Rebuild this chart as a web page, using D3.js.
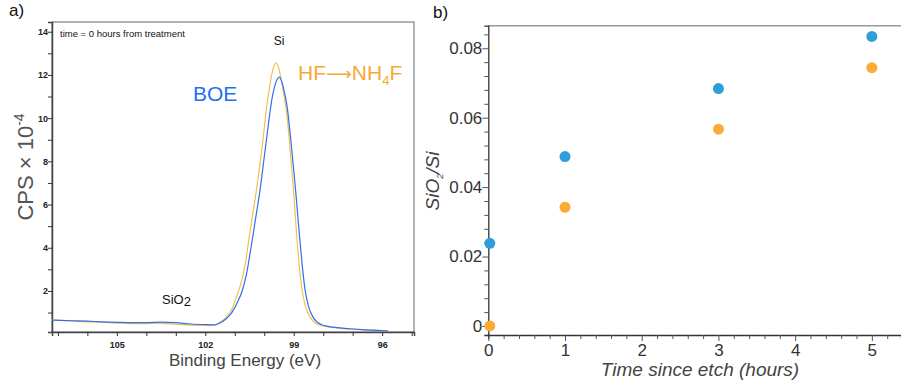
<!DOCTYPE html>
<html>
<head>
<meta charset="utf-8">
<script src="https://cdn.jsdelivr.net/npm/d3@7"></script>
<style>
  body { margin: 0; background: #fff; }
  svg { font-family: "Liberation Sans", Arial, sans-serif; }
</style>
</head>
<body>
<svg id="chart" width="901" height="384"></svg>
<script>
// ---- panel a) XPS spectra (binding energy eV, CPS x 10^-4) ----
var boeEnergy = [107.2, 106.5, 106, 105.5, 105, 104.5, 104, 103.5, 103, 102.5, 102, 101.68, 101.5, 101.3, 101.1, 100.9, 100.75, 100.6, 100.45, 100.3, 100.15, 100.0, 99.87, 99.75, 99.62, 99.48, 99.35, 99.22, 99.1, 99.0, 98.92, 98.82, 98.72, 98.62, 98.5, 98.35, 98.2, 98.07, 97.8, 97.5, 97, 96.5, 96, 95.8];
var boeCps    = [0.65, 0.62, 0.6, 0.57, 0.55, 0.53, 0.53, 0.56, 0.53, 0.47, 0.44, 0.43, 0.52, 0.7, 1.0, 1.5, 2.0, 2.8, 4.0, 5.3, 6.6, 8.2, 9.6, 10.8, 11.6, 11.9, 11.4, 10.5, 9.0, 7.6, 6.4, 4.8, 3.3, 2.1, 1.3, 0.8, 0.55, 0.45, 0.35, 0.3, 0.24, 0.2, 0.16, 0.15];
var hfEnergy  = [107.2, 106.5, 106, 105.5, 105, 104.5, 104, 103.5, 103, 102.5, 102, 101.68, 101.5, 101.3, 101.1, 100.95, 100.8, 100.65, 100.5, 100.35, 100.2, 100.05, 99.93, 99.8, 99.7, 99.59, 99.47, 99.35, 99.22, 99.1, 99.0, 98.9, 98.8, 98.7, 98.58, 98.45, 98.3, 98.19, 97.8, 97.5, 97, 96.5, 96, 95.8];
var hfCps     = [0.66, 0.6, 0.57, 0.54, 0.51, 0.49, 0.49, 0.5, 0.46, 0.42, 0.4, 0.43, 0.55, 0.78, 1.15, 1.7, 2.3, 3.2, 4.6, 5.9, 7.3, 8.9, 10.4, 11.6, 12.3, 12.55, 12.1, 11.2, 10.0, 8.2, 6.5, 4.6, 3.0, 1.9, 1.2, 0.8, 0.55, 0.45, 0.33, 0.28, 0.23, 0.19, 0.16, 0.15];
var energyTicks = [105, 102, 99, 96];

// ---- panel b) SiO2/Si ratio vs time ----
var hours   = [0, 1, 3, 5];
var boeRatio = [0.0238, 0.0488, 0.0684, 0.0834];
var hfRatio  = [0.0, 0.0342, 0.0567, 0.0744];

var svg = d3.select("#chart");
var blueLine = "#2f6ff0", yellowLine = "#f2c14e";
var blueDot = "#2e9fd9", orangeDot = "#fbab36";

// ================= panel a =================
var a = { left: 52, right: 414, top: 22, bottom: 332 };
var xA = d3.scaleLinear().domain([107.2, 94.92]).range([a.left, a.right]);
var yA = d3.scaleLinear().domain([0.1, 14.45]).range([a.bottom, a.top]);

svg.append("rect")
  .attr("x", a.left).attr("y", a.top)
  .attr("width", a.right - a.left).attr("height", a.bottom - a.top)
  .attr("fill", "none").attr("stroke", "#666").attr("stroke-width", 1);

var gxA = svg.append("g").attr("transform", "translate(0," + a.bottom + ")")
  .call(d3.axisBottom(xA).tickValues(d3.range(95, 108)).tickSize(4)
    .tickFormat(function(d) { return energyTicks.indexOf(d) >= 0 ? d : ""; }));
var gyA = svg.append("g").attr("transform", "translate(" + a.left + ",0)")
  .call(d3.axisLeft(yA).tickValues(d3.range(1, 15)).tickSize(4)
    .tickFormat(function(d) { return d % 2 === 0 ? d : ""; }));
[gxA, gyA].forEach(function(g) {
  g.select(".domain").attr("stroke", "#444").attr("stroke-width", 1.5);
  g.selectAll(".tick line").attr("stroke", "#333");
  g.selectAll(".tick text").attr("font-size", 9).attr("font-weight", "bold").attr("fill", "#222");
});
gxA.selectAll(".tick text").attr("dy", "0.95em");
gyA.selectAll(".tick text").attr("x", -4);

var lineA = d3.line().curve(d3.curveMonotoneX);
svg.append("path")
  .attr("d", lineA(hfEnergy.map(function(e, i) { return [xA(e), yA(hfCps[i])]; })))
  .attr("fill", "none").attr("stroke", yellowLine).attr("stroke-width", 1.2);
svg.append("path")
  .attr("d", lineA(boeEnergy.map(function(e, i) { return [xA(e), yA(boeCps[i])]; })))
  .attr("fill", "none").attr("stroke", blueLine).attr("stroke-width", 1.2);

svg.append("text").attr("x", 60).attr("y", 37).attr("font-size", 9.5).attr("fill", "#111")
  .text("time = 0 hours from treatment");
svg.append("text").attr("x", 279).attr("y", 45).attr("font-size", 12).attr("fill", "#111")
  .attr("text-anchor", "middle").text("Si");
var sio2 = svg.append("text").attr("x", 162).attr("y", 304).attr("font-size", 13).attr("fill", "#111");
sio2.append("tspan").text("SiO");
sio2.append("tspan").attr("dy", 2).text("2");
svg.append("text").attr("x", 193).attr("y", 101).attr("font-size", 21).attr("fill", "#1f6ff2")
  .text("BOE");
var hfl = svg.append("text").attr("x", 298).attr("y", 80).attr("font-size", 21).attr("fill", "#f6a935");
hfl.append("tspan").text("HF");
hfl.append("tspan").attr("font-family", "DejaVu Sans").attr("font-size", 18).text("\u27F6");
hfl.append("tspan").text("NH");
hfl.append("tspan").attr("font-size", 13).attr("dy", 5).text("4");
hfl.append("tspan").attr("dy", -5).text("F");

svg.append("text").attr("x", (a.left + a.right) / 2 + 12).attr("y", 366)
  .attr("text-anchor", "middle").attr("font-size", 17).attr("fill", "#444")
  .text("Binding Energy (eV)");
var cps = svg.append("text").attr("transform", "translate(33," + 167 + ") rotate(-90)")
  .attr("text-anchor", "middle").attr("font-size", 22).attr("fill", "#555");
cps.append("tspan").text("CPS \u00d7 10");
cps.append("tspan").attr("font-size", 14).attr("dy", -9).text("-4");

svg.append("text").attr("x", 9).attr("y", 16).attr("font-size", 17).attr("fill", "#111").text("a)");

// ================= panel b =================
var b = { left: 488.3, right: 901, top: 25.7, bottom: 335 };
var xB = d3.scaleLinear().domain([0, 5.38]).range([b.left, b.right]);
var yB = d3.scaleLinear().domain([-0.0026, 0.0865]).range([b.bottom, b.top]);

svg.append("line").attr("x1", b.left).attr("x2", b.right).attr("y1", b.top).attr("y2", b.top)
  .attr("stroke", "#999").attr("stroke-width", 1.5);

var gxB = svg.append("g").attr("transform", "translate(0," + b.bottom + ")")
  .call(d3.axisBottom(xB).tickValues(d3.range(0, 5.4, 0.2)).tickSize(4)
    .tickFormat(function(d) { return Math.abs(d - Math.round(d)) < 1e-6 ? Math.round(d) : ""; }));
var gyB = svg.append("g").attr("transform", "translate(" + b.left + ",0)")
  .call(d3.axisLeft(yB).tickValues(d3.range(0, 0.0861, 0.004)).tickSize(4)
    .tickFormat(function(d) {
      var k = Math.round(d * 1000);
      return k % 20 === 0 ? (k === 0 ? "0" : d3.format(".2f")(k / 1000)) : "";
    }));
[gxB, gyB].forEach(function(g) {
  g.select(".domain").attr("stroke", "#333").attr("stroke-width", 1.3);
  g.selectAll(".tick line").attr("stroke", "#555");
  g.selectAll(".tick text").attr("font-size", 17).attr("fill", "#333");
});
gxB.selectAll(".tick text").attr("dy", "0.8em");
gyB.selectAll(".tick text").attr("x", -6);
// longer major ticks
gxB.selectAll(".tick").filter(function(d) { return Math.abs(d - Math.round(d)) < 1e-6; })
  .select("line").attr("y2", 6);
gyB.selectAll(".tick").filter(function(d) { return Math.round(d * 1000) % 20 === 0; })
  .select("line").attr("x2", -6);

svg.append("g").selectAll("circle").data(hours).join("circle")
  .attr("cx", function(d) { return xB(d) + (d === 0 ? 1.5 : 0); })
  .attr("cy", function(d, i) { return yB(boeRatio[i]); })
  .attr("r", 5.5).attr("fill", blueDot);
svg.append("g").selectAll("circle").data(hours).join("circle")
  .attr("cx", function(d) { return xB(d) + (d === 0 ? 1.5 : 0); })
  .attr("cy", function(d, i) { return yB(hfRatio[i]); })
  .attr("r", 5.5).attr("fill", orangeDot);

svg.append("text").attr("x", 700).attr("y", 376).attr("text-anchor", "middle")
  .attr("font-size", 19).attr("font-style", "italic").attr("fill", "#444")
  .text("Time since etch (hours)");
var ratioLabel = svg.append("text").attr("transform", "translate(439,181) rotate(-90)")
  .attr("text-anchor", "middle").attr("font-size", 19).attr("font-style", "italic").attr("fill", "#444");
ratioLabel.append("tspan").text("SiO");
ratioLabel.append("tspan").attr("font-size", 9).attr("dy", 4).text("2");
ratioLabel.append("tspan").attr("dy", -4).text("/Si");

svg.append("text").attr("x", 433).attr("y", 18).attr("font-size", 17).attr("fill", "#111").text("b)");
</script>
</body>
</html>
